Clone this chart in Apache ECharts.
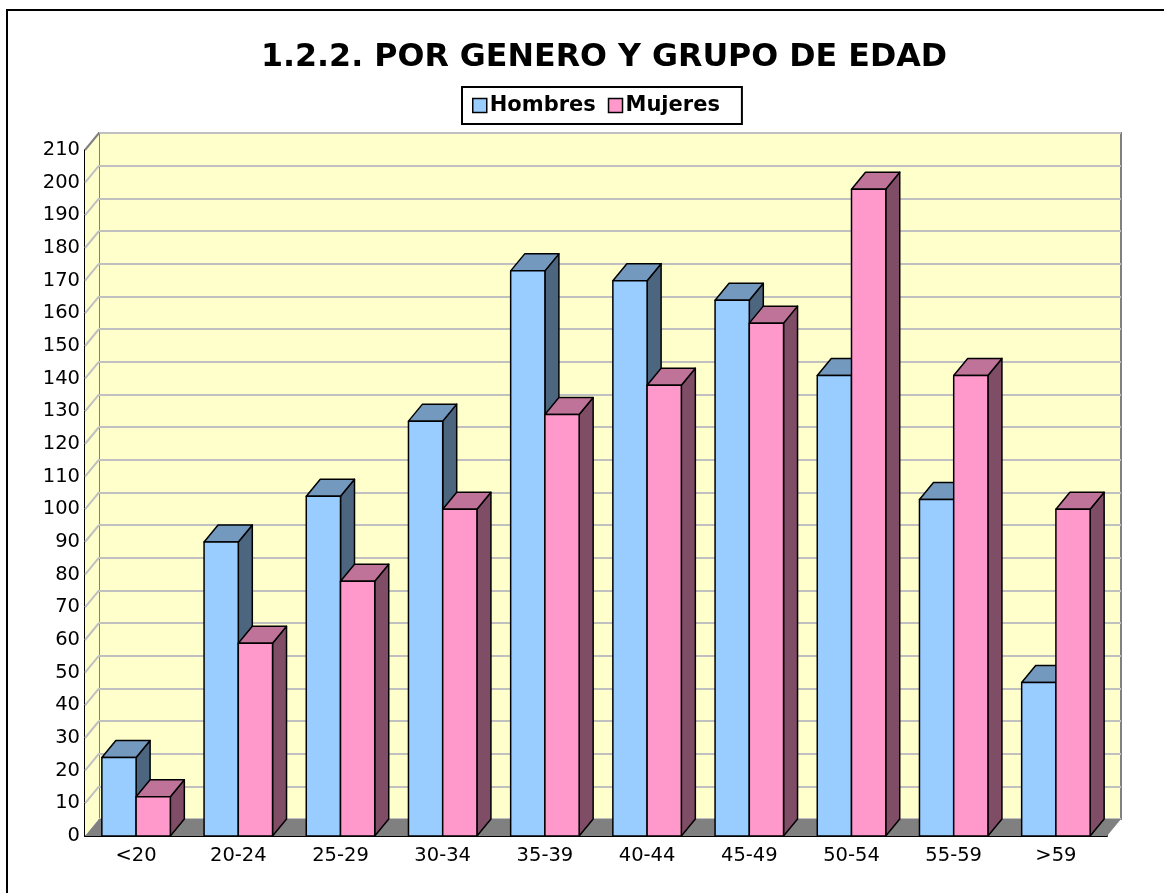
<!DOCTYPE html>
<html>
<head>
<meta charset="utf-8">
<script src="https://cdn.jsdelivr.net/npm/echarts@6/dist/echarts.min.js"></script>
<style>
  html, body { margin: 0; padding: 0; background: #fff; }
  #chart { width: 1164px; height: 893px; }
</style>
</head>
<body>
<div id="chart"></div>
<script>
var categories = ['<20', '20-24', '25-29', '30-34', '35-39', '40-44', '45-49', '50-54', '55-59', '>59'];
var hombres = [24, 90, 104, 127, 173, 170, 164, 141, 103, 47];
var mujeres = [12, 59, 78, 100, 129, 138, 157, 198, 141, 100];
var yTicks = [0, 10, 20, 30, 40, 50, 60, 70, 80, 90, 100, 110, 120, 130, 140, 150, 160, 170, 180, 190, 200, 210];

// profundidad del efecto 3D (px)
var DX = 14, DY = -17;
var FONT = '"DejaVu Sans", Verdana, sans-serif';

function bar3d(side, front, top, dark) {
	return function (params, api) {
		var idx = api.value(0);
		var p0 = api.coord([idx, 0]);
		var p1 = api.coord([idx, api.value(1)]);
		var bw = api.size([1, 0])[0] * 0.67 / 2;
		var l = side == 0 ? p0[0] - bw : p0[0];
		var r = l + bw;
		var y0 = p0[1], y1 = p1[1];
		var line = {stroke: '#000', lineWidth: 1.5, lineJoin: 'round'};
		return {
			type: 'group',
			children: [
				{type: 'polygon', shape: {points: [[r, y1], [r + DX, y1 + DY], [r + DX, y0 + DY], [r, y0]]},
					style: Object.assign({fill: dark}, line)},
				{type: 'polygon', shape: {points: [[l, y1], [l + DX, y1 + DY], [r + DX, y1 + DY], [r, y1]]},
					style: Object.assign({fill: top}, line)},
				{type: 'rect', shape: {x: l, y: y1, width: r - l, height: y0 - y1},
					style: Object.assign({fill: front}, line)}
			]
		};
	};
}

var chart = echarts.init(document.getElementById('chart'));
var option = {
	animation: false,
	backgroundColor: '#fff',
	title: {
		text: '1.2.2. POR GENERO Y GRUPO DE EDAD',
		left: 599,
		top: 37,
		textAlign: 'center',
		textStyle: {fontFamily: FONT, fontWeight: 'bold', fontSize: 31.7, color: '#000'}
	},
	legend: {
		data: ['Hombres', 'Mujeres'],
		left: 462,
		top: 87,
		icon: 'rect',
		itemWidth: 14,
		itemHeight: 14,
		itemGap: 12,
		padding: [8, 22, 8, 10],
		borderColor: '#000',
		borderWidth: 2,
		itemStyle: {borderColor: '#000', borderWidth: 1.5},
		textStyle: {fontFamily: FONT, fontWeight: 'bold', fontSize: 21, color: '#000', padding: [0, 0, 0, -2]}
	},
	graphic: [
		{type: 'rect', shape: {x: 7, y: 10, width: 1200, height: 900}, style: {fill: null, stroke: '#000', lineWidth: 2}, z: -10}
	],
	grid: [
		{left: 99, top: 133, width: 1022, height: 686, show: true, backgroundColor: '#FFFFCC', borderColor: '#808080', borderWidth: 2},
		{left: 85, top: 150, width: 1022, height: 686}
	],
	xAxis: [
		{gridIndex: 0, type: 'category', data: categories, show: false},
		{gridIndex: 1, type: 'category', data: categories,
			axisLine: {lineStyle: {color: '#000', width: 2}},
			axisTick: {show: false},
			axisLabel: {margin: 10, fontFamily: FONT, fontSize: 19.5, color: '#000'}}
	],
	yAxis: [
		{gridIndex: 0, type: 'value', min: 0, max: 210, interval: 10,
			axisLine: {show: false}, axisTick: {show: false}, axisLabel: {show: false},
			splitLine: {lineStyle: {color: '#C0C0C0', width: 2}}},
		{gridIndex: 1, type: 'value', min: 0, max: 210, interval: 10,
			axisLine: {show: true, lineStyle: {color: '#000', width: 2}},
			axisTick: {show: false},
			splitLine: {show: false},
			axisLabel: {margin: 5, fontFamily: FONT, fontSize: 19.5, color: '#000'}}
	],
	series: [
		{
			// pared izquierda y suelo
			type: 'custom',
			xAxisIndex: 1, yAxisIndex: 1,
			silent: true,
			z: 1,
			data: [[0]],
			renderItem: function (params, api) {
				var half = api.size([1, 0])[0] / 2;
				var b0 = api.coord([0, 0]);
				var t0 = api.coord([0, 210]);
				var xl = b0[0] - half;
				var xr = api.coord([categories.length - 1, 0])[0] + half;
				var children = [
					{type: 'polygon', shape: {points: [[xl, b0[1]], [xl, t0[1]], [xl + DX, t0[1] + DY], [xl + DX, b0[1] + DY]]},
						style: {fill: '#FFFFCC'}}
				];
				for (var i = 1; i < yTicks.length; i++) {
					var p = api.coord([0, yTicks[i]]);
					children.push({type: 'line', shape: {x1: xl, y1: p[1], x2: xl + DX, y2: p[1] + DY},
						style: {stroke: i == yTicks.length - 1 ? '#808080' : '#C0C0C0', lineWidth: 2}});
				}
				children.push({type: 'polygon', shape: {points: [[xl, b0[1]], [xr, b0[1]], [xr + DX, b0[1] + DY], [xl + DX, b0[1] + DY]]},
					style: {fill: '#808080'}});
				return {type: 'group', children: children};
			}
		},
		{
			name: 'Hombres',
			type: 'custom',
			xAxisIndex: 1, yAxisIndex: 1,
			z: 2,
			itemStyle: {color: '#99CCFF'},
			data: hombres.map(function (v, i) { return [i, v]; }),
			renderItem: bar3d(0, '#99CCFF', '#7399BF', '#4D6680')
		},
		{
			name: 'Mujeres',
			type: 'custom',
			xAxisIndex: 1, yAxisIndex: 1,
			z: 3,
			itemStyle: {color: '#FF99CC'},
			data: mujeres.map(function (v, i) { return [i, v]; }),
			renderItem: bar3d(1, '#FF99CC', '#BF7399', '#804D66')
		}
	]
};
chart.setOption(option);
</script>
</body>
</html>
